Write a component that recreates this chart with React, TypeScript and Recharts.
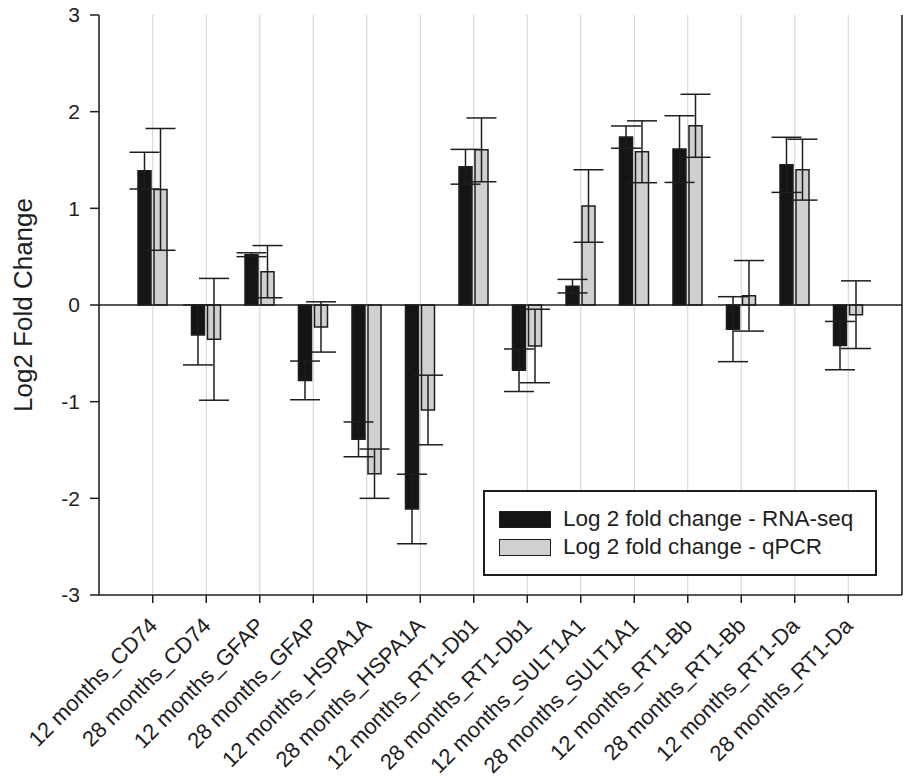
import React from 'react';
import { BarChart, Bar, XAxis, YAxis, CartesianGrid, ErrorBar, ReferenceLine, Legend } from 'recharts';

const categories = [
  '12 months_CD74', '28 months_CD74', '12 months_GFAP', '28 months_GFAP',
  '12 months_HSPA1A', '28 months_HSPA1A', '12 months_RT1-Db1', '28 months_RT1-Db1',
  '12 months_SULT1A1', '28 months_SULT1A1', '12 months_RT1-Bb', '28 months_RT1-Bb',
  '12 months_RT1-Da', '28 months_RT1-Da',
];
const rnaSeq = [1.39, -0.31, 0.52, -0.78, -1.39, -2.11, 1.43, -0.675, 0.195, 1.737, 1.613, -0.25, 1.45, -0.42];
const rnaSeqErr = [0.19, 0.31, 0.02, 0.2, 0.18, 0.36, 0.18, 0.22, 0.07, 0.115, 0.345, 0.336, 0.285, 0.25];
const qpcr = [1.196, -0.355, 0.345, -0.227, -1.745, -1.086, 1.605, -0.424, 1.024, 1.585, 1.854, 0.095, 1.4, -0.1];
const qpcrErr = [0.63, 0.63, 0.27, 0.26, 0.255, 0.36, 0.33, 0.38, 0.375, 0.32, 0.326, 0.365, 0.315, 0.35];
const yTicks = [-3, -2, -1, 0, 1, 2, 3];
const seriesNames = ['Log 2 fold change - RNA-seq', 'Log 2 fold change - qPCR'];

const data = categories.map((name, i) => ({
  name,
  rna: rnaSeq[i],
  rnaErr: rnaSeqErr[i],
  qpcr: qpcr[i],
  qpcrErr: qpcrErr[i],
}));

const FONT = '"Liberation Sans", Arial, Helvetica, sans-serif';
const INK = '#1e1e1e';
const DARK = '#151515';
const GREY = '#d0d0d0';

const XTick = (props: any) => {
  const { x, y, payload } = props;
  return (
    <g transform={`translate(${x + 6},${y + 22})`}>
      <text
        x={0}
        y={0}
        textAnchor="end"
        transform="rotate(-45)"
        fontFamily={FONT}
        fontSize={22}
        fill={INK}
      >
        {payload.value}
      </text>
    </g>
  );
};

const YLabel = (props: any) => {
  const vb = props.viewBox || {};
  const cy = (vb.y || 0) + (vb.height || 0) / 2;
  const cx = 32;
  return (
    <text
      x={cx}
      y={cy}
      textAnchor="middle"
      transform={`rotate(-90, ${cx}, ${cy})`}
      fontFamily={FONT}
      fontSize={26}
      fill={INK}
    >
      Log2 Fold Change
    </text>
  );
};

const LegendBox = () => (
  <div
    style={{
      width: 394,
      height: 86,
      border: `2px solid ${INK}`,
      background: '#fff',
      boxSizing: 'border-box',
      paddingLeft: 14,
      paddingTop: 13,
      fontFamily: FONT,
      fontSize: 22.5,
      color: INK,
    }}
  >
    {seriesNames.map((n, i) => (
      <div key={n} style={{ display: 'flex', alignItems: 'center', height: 28 }}>
        <div
          style={{
            width: 52,
            height: 17,
            background: i === 0 ? DARK : GREY,
            border: `1.5px solid ${INK}`,
            boxSizing: 'border-box',
            marginRight: 12,
          }}
        />
        <span style={{ lineHeight: '28px' }}>{n}</span>
      </div>
    ))}
  </div>
);

export default function App() {
  return (
    <div style={{ position: 'absolute', left: 0, top: 0, background: '#fff' }}>
      <BarChart
        width={903}
        height={777}
        data={data}
        margin={{ top: 15, right: 0, bottom: 0, left: 0 }}
        barSize={13}
        barGap={3}
      >
        <CartesianGrid vertical={true} horizontal={false} stroke={GREY} strokeWidth={1} />
        <XAxis
          dataKey="name"
          interval={0}
          height={182}
          padding={{ left: 27, right: 27 }}
          tick={<XTick />}
          tickSize={8}
          tickMargin={2}
          axisLine={{ stroke: INK, strokeWidth: 1.5 }}
          tickLine={{ stroke: INK, strokeWidth: 1.5 }}
        />
        <XAxis
          xAxisId="top"
          dataKey="name"
          orientation="top"
          height={0}
          tick={false}
          tickLine={false}
          axisLine={{ stroke: INK, strokeWidth: 1.5 }}
        />
        <YAxis
          domain={[-3, 3]}
          ticks={yTicks}
          width={99}
          interval={0}
          tickSize={9}
          tickMargin={10}
          tick={{ fontFamily: FONT, fontSize: 21, fill: INK }}
          axisLine={{ stroke: INK, strokeWidth: 1.5 }}
          tickLine={{ stroke: INK, strokeWidth: 1.5 }}
          label={<YLabel />}
        />
        <YAxis
          yAxisId="right"
          orientation="right"
          domain={[-3, 3]}
          width={1}
          tick={false}
          tickLine={false}
          axisLine={{ stroke: INK, strokeWidth: 1.5 }}
        />
        <ReferenceLine y={0} stroke={INK} strokeWidth={1.5} />
        <Bar dataKey="rna" name={seriesNames[0]} fill={DARK} stroke={INK} strokeWidth={1.5} isAnimationActive={false}>
          <ErrorBar dataKey="rnaErr" width={15} stroke={INK} strokeWidth={1.5} isAnimationActive={false} />
        </Bar>
        <Bar dataKey="qpcr" name={seriesNames[1]} fill={GREY} stroke={INK} strokeWidth={1.5} isAnimationActive={false}>
          <ErrorBar dataKey="qpcrErr" width={15} stroke={INK} strokeWidth={1.5} isAnimationActive={false} />
        </Bar>
        <Legend
          layout="vertical"
          align="center"
          verticalAlign="middle"
          content={<LegendBox />}
          wrapperStyle={{ position: 'absolute', left: 483, top: 490, width: 'auto', height: 'auto' }}
        />
      </BarChart>
    </div>
  );
}
